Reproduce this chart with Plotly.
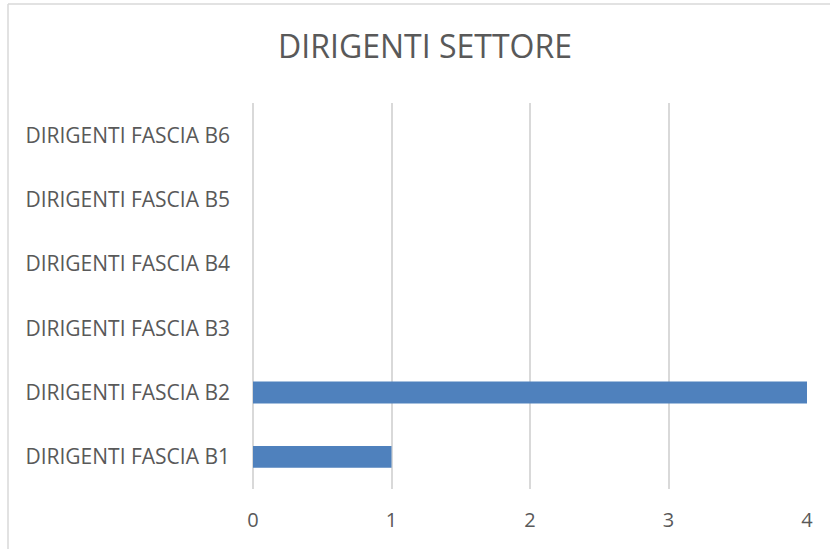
import plotly.graph_objects as go

categories = ["DIRIGENTI FASCIA B1", "DIRIGENTI FASCIA B2", "DIRIGENTI FASCIA B3",
              "DIRIGENTI FASCIA B4", "DIRIGENTI FASCIA B5", "DIRIGENTI FASCIA B6"]
values = [1, 4, 0, 0, 0, 0]
x_ticks = [0, 1, 2, 3, 4]
title_text = "DIRIGENTI SETTORE"

W, H = 830, 549
L, R, T, B = 253, 23, 103, 60
pw, ph = W - L - R, H - T - B

FONT = "Open Sans"
TXT = "#595959"
GRID = "#d9d9d9"

fig = go.Figure()
fig.add_trace(go.Bar(
    y=categories, x=values, orientation="h",
    marker=dict(color="#4F81BD", line=dict(width=0)),
    width=0.34,
))

def px_x(p):
    return (p - L) / pw

def px_y(p):
    return 1 - (p - T) / ph

fig.update_layout(
    width=W, height=H,
    margin=dict(l=L, r=R, t=T, b=B),
    paper_bgcolor="white", plot_bgcolor="white",
    showlegend=False,
    title=dict(text=title_text, x=425 / W, xref="container", xanchor="center",
               y=1 - 47 / H, yref="container", yanchor="middle",
               font=dict(family=FONT, size=32, color=TXT)),
    xaxis=dict(range=[0, 4], tickvals=x_ticks, showgrid=True, gridcolor=GRID,
               gridwidth=1.5, zeroline=True, zerolinecolor=GRID, zerolinewidth=1.5,
               showline=False, layer="below traces",
               tickfont=dict(family=FONT, size=20, color=TXT),
               ticks="", ticklabelstandoff=17),
    yaxis=dict(categoryorder="array", categoryarray=categories,
               showgrid=False, zeroline=False, showline=False,
               tickfont=dict(family=FONT, size=21, color=TXT),
               ticks="", ticklabelstandoff=22),
    shapes=[
        dict(type="line", xref="paper", yref="paper",
             x0=px_x(8), x1=px_x(W + 5), y0=px_y(4), y1=px_y(4),
             line=dict(color=GRID, width=1.5)),
        dict(type="line", xref="paper", yref="paper",
             x0=px_x(8), x1=px_x(8), y0=px_y(4), y1=px_y(H + 5),
             line=dict(color=GRID, width=1.5)),
    ],
)

fig.write_html("out.html", config={"displayModeBar": False},
               post_script="document.body.style.margin='0';document.body.style.overflow='hidden';")
